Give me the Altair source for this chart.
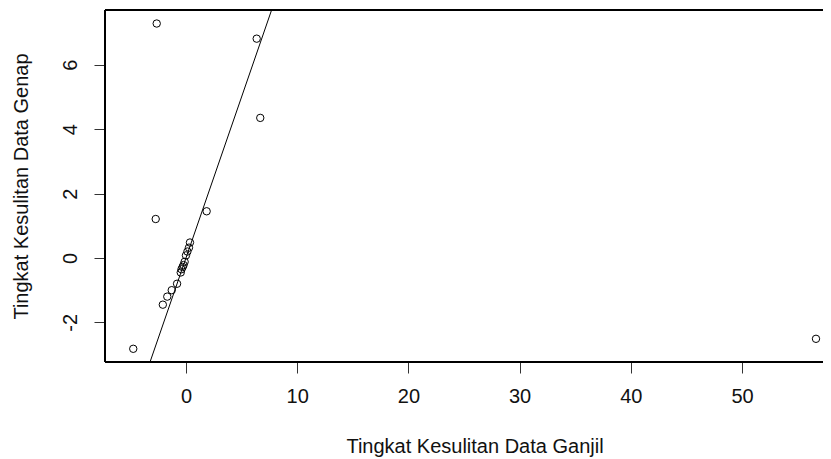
import altair as alt
import pandas as pd

# Data (x = Ganjil, y = Genap)
ganjil = [-2.63, 6.36, 6.68, 1.86, -2.72, -4.74, 56.65,
          0.36, 0.27, 0.13, 0.00, -0.12, -0.22, -0.30, -0.40, -0.47,
          -0.80, -1.28, -1.68, -2.08]
genap = [7.28, 6.81, 4.35, 1.45, 1.21, -2.82, -2.51,
         0.48, 0.32, 0.20, 0.08, -0.12, -0.22, -0.28, -0.35, -0.45,
         -0.80, -1.00, -1.20, -1.45]

x_ticks = [0, 10, 20, 30, 40, 50]
y_ticks = [-2, 0, 2, 4, 6]

x_domain = [-7.28, 57.28]
y_domain = [-3.23, 7.70]

# reference line y = x (abline(0, 1))
line_x = [-3.4, 7.9]
line_y = [-3.4, 7.9]

pts = pd.DataFrame({"gj": ganjil, "gn": genap})
ln = pd.DataFrame({"gj": line_x, "gn": line_y})

FONT = "Liberation Sans"
FS = 20
W, H = 718, 352

xs = alt.Scale(domain=x_domain, nice=False, zero=False)
ys = alt.Scale(domain=y_domain, nice=False, zero=False)

x_axis = alt.Axis(
    values=x_ticks, title="Tingkat Kesulitan Data Ganjil", grid=False, domain=False,
    tickSize=11, tickColor="#333333", tickWidth=1,
    labelFont=FONT, labelFontSize=FS, labelColor="#111111", labelPadding=13,
    labelBaseline="top", labelFlush=False, labelExpr="'' + datum.value",
    titleFont=FONT, titleFontSize=FS, titleFontWeight="normal", titleColor="#111111",
    titleX=369.5, titleY=90.5, titleBaseline="alphabetic", titleAlign="center",
)
y_axis = alt.Axis(
    values=y_ticks, title="Tingkat Kesulitan Data Genap", grid=False, domain=False,
    tickSize=11, tickColor="#333333", tickWidth=1,
    labelFont=FONT, labelFontSize=FS, labelColor="#111111", labelPadding=18,
    labelAngle=-90, labelAlign="center", labelBaseline="alphabetic", labelFlush=False,
    labelExpr="'' + datum.value",
    titleFont=FONT, titleFontSize=FS, titleFontWeight="normal", titleColor="#111111",
    titleX=-78, titleY=176, titleAngle=-90, titleAlign="center", titleBaseline="alphabetic",
)

points = alt.Chart(pts).mark_point(
    shape="circle", filled=False, color="black", strokeWidth=1, size=55, opacity=1
).encode(
    x=alt.X("gj:Q", scale=xs, axis=x_axis),
    y=alt.Y("gn:Q", scale=ys, axis=y_axis),
)

line = alt.Chart(ln).mark_line(color="black", strokeWidth=1, clip=True).encode(
    x=alt.X("gj:Q", scale=xs),
    y=alt.Y("gn:Q", scale=ys),
)

# plot frame (left, top, bottom; the right side lies outside the picture)
frame_style = dict(color="black", strokeWidth=1)
left_side = alt.Chart(pts).mark_rule(**frame_style).encode(
    x=alt.value(0), y=alt.value(0), y2=alt.value(H))
top_side = alt.Chart(pts).mark_rule(**frame_style).encode(
    x=alt.value(0), x2=alt.value(W + 10), y=alt.value(0))
bottom_side = alt.Chart(pts).mark_rule(**frame_style).encode(
    x=alt.value(0), x2=alt.value(W + 10), y=alt.value(H))

chart = alt.layer(line, points, left_side, top_side, bottom_side).properties(
    width=W, height=H,
    autosize=alt.AutoSizeParams(type="none"),
    padding={"left": 97, "top": 2, "right": 0, "bottom": 97},
    background="white",
).configure_view(stroke=None)

chart.save("out.html", embed_options={"renderer": "svg", "actions": False})
